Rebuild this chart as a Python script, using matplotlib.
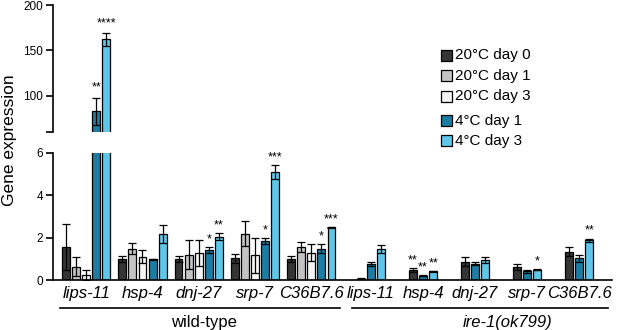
import numpy as np
import matplotlib
matplotlib.use("Agg")
import matplotlib.pyplot as plt
from matplotlib.patches import Rectangle
from matplotlib.lines import Line2D
import matplotlib.transforms as mtransforms

plt.rcParams['font.family'] = ['Liberation Sans', 'DejaVu Sans']

genes = ['lips-11', 'hsp-4', 'dnj-27', 'srp-7', 'C36B7.6']

# wild-type values
wt_20d0 = [1.55, 1.0, 1.0, 1.02, 1.0]
wt_20d0_err = [1.07, 0.14, 0.14, 0.22, 0.14]
wt_20d1 = [0.62, 1.48, 1.2, 2.18, 1.54]
wt_20d1_err = [0.45, 0.25, 0.68, 0.6, 0.23]
wt_20d3 = [0.24, 1.1, 1.26, 1.16, 1.29]
wt_20d3_err = [0.22, 0.32, 0.62, 0.84, 0.41]
wt_4d1 = [83, 0.97, 1.43, 1.84, 1.48]
wt_4d1_err = [15, 0.02, 0.14, 0.12, 0.2]
wt_4d3 = [162, 2.17, 2.04, 5.1, 2.48]
wt_4d3_err = [7.5, 0.43, 0.16, 0.32, 0.03]
wt_stars = [['', '', '', '', ''],
            ['', '', '', '', ''],
            ['', '', '', '', ''],
            ['**', '', '*', '*', '*'],
            ['****', '', '**', '***', '***']]

# ire-1(ok799) values
ire_20d0 = [0.07, 0.47, 0.86, 0.6, 1.33]
ire_20d0_err = [0.02, 0.08, 0.21, 0.14, 0.21]
ire_4d1 = [0.75, 0.2, 0.77, 0.42, 1.02]
ire_4d1_err = [0.08, 0.03, 0.08, 0.07, 0.18]
ire_4d3 = [1.45, 0.41, 0.94, 0.49, 1.87]
ire_4d3_err = [0.2, 0.03, 0.13, 0.03, 0.08]
ire_stars = [['', '**', '', '', ''],
             ['', '**', '', '', ''],
             ['', '**', '', '*', '**']]

legend_labels = ['20°C day 0', '20°C day 1', '20°C day 3', '4°C day 1', '4°C day 3']
colors = ['#353535', '#c3c3c3', '#f4f4f4', '#1b7ca4', '#5ec6e8']

fig = plt.figure(figsize=(6.17, 3.30), dpi=100)
ax_lo = fig.add_axes([0.0859, 0.1515, 0.906, 0.3858])
ax_hi = fig.add_axes([0.0859, 0.600, 0.906, 0.3848])

bw = 0.78
wt_start = np.arange(5) * 5.57
ire_start = 29.2 + np.arange(5) * 5.15

wt_series = [(wt_20d0, wt_20d0_err), (wt_20d1, wt_20d1_err), (wt_20d3, wt_20d3_err),
             (wt_4d1, wt_4d1_err), (wt_4d3, wt_4d3_err)]
ire_series = [(ire_20d0, ire_20d0_err, 0), (ire_4d1, ire_4d1_err, 3), (ire_4d3, ire_4d3_err, 4)]


def draw(ax, x, vals, errs, col):
    ax.bar(x, vals, width=bw, color=col, edgecolor='black', linewidth=0.9, zorder=2)
    ax.errorbar(x, vals, yerr=errs, fmt='none', ecolor='black', elinewidth=0.9,
                capsize=3, capthick=0.9, zorder=3)


for ax in (ax_lo, ax_hi):
    for i, (v, e) in enumerate(wt_series):
        draw(ax, wt_start + i, v, e, colors[i])
    for j, (v, e, ci) in enumerate(ire_series):
        draw(ax, ire_start + j, v, e, colors[ci])

# significance stars
for i, (v, e) in enumerate(wt_series):
    for g in range(5):
        s = wt_stars[i][g]
        if not s:
            continue
        top = v[g] + e[g]
        ax = ax_hi if top > 6 else ax_lo
        off = 4 if top > 6 else 0.08
        ax.text(wt_start[g] + i, top + off, s, ha='center', va='bottom', fontsize=9)
for j, (v, e, ci) in enumerate(ire_series):
    for g in range(5):
        s = ire_stars[j][g]
        if s:
            ax_lo.text(ire_start[g] + j, v[g] + e[g] + 0.08, s, ha='center', va='bottom', fontsize=9)

xlim = (-1.29, 54.06)
ax_lo.set_xlim(*xlim)
ax_hi.set_xlim(*xlim)
ax_lo.set_ylim(0, 6)
ax_hi.set_ylim(60, 200)
ax_lo.set_yticks([0, 2, 4, 6])
ax_hi.set_yticks([60, 100, 150, 200])
ax_hi.set_yticklabels(['', '100', '150', '200'])

for ax in (ax_lo, ax_hi):
    ax.spines['top'].set_visible(False)
    ax.spines['right'].set_visible(False)
    ax.spines['left'].set_linewidth(1.2)
    ax.tick_params(axis='y', length=5, width=1.2, labelsize=8.5, pad=2)
ax_lo.spines['bottom'].set_linewidth(1.2)
ax_hi.spines['bottom'].set_visible(False)
ax_hi.set_xticks([])

centers = list(wt_start + 2) + list(ire_start + 1)
ax_lo.set_xticks(centers)
ax_lo.set_xticklabels(genes + genes, style='italic', fontsize=12)
ax_lo.tick_params(axis='x', length=0, pad=4)

# group underlines and labels
trans = mtransforms.blended_transform_factory(ax_lo.transData, ax_lo.transAxes)
ax_lo.add_line(Line2D([-0.6, 27.1], [-0.22, -0.22], transform=trans, color='black',
                      linewidth=1.2, clip_on=False))
ax_lo.add_line(Line2D([28.3, 53.7], [-0.22, -0.22], transform=trans, color='black',
                      linewidth=1.2, clip_on=False))
ax_lo.text(13.7, -0.33, 'wild-type', transform=trans, ha='center', va='center', fontsize=12)
ax_lo.text(43.7, -0.33, 'ire-1(ok799)', transform=trans, ha='center', va='center',
           fontsize=12, style='italic')

fig.text(0.016, 0.575, 'Gene expression', rotation=90, ha='center', va='center', fontsize=12.5)

# legend
W, H = 617, 330
rows_y = [55, 75.7, 96, 120.7, 140.7]
for lab, col, py in zip(legend_labels, colors, rows_y):
    fig.add_artist(Rectangle((441 / W, 1 - (py + 5.5) / H), 11 / W, 11 / H, facecolor=col,
                             edgecolor='black', linewidth=0.9, transform=fig.transFigure))
    fig.text(455 / W, 1 - py / H, lab, ha='left', va='center', fontsize=11)

fig.savefig('out.png', dpi=100)
